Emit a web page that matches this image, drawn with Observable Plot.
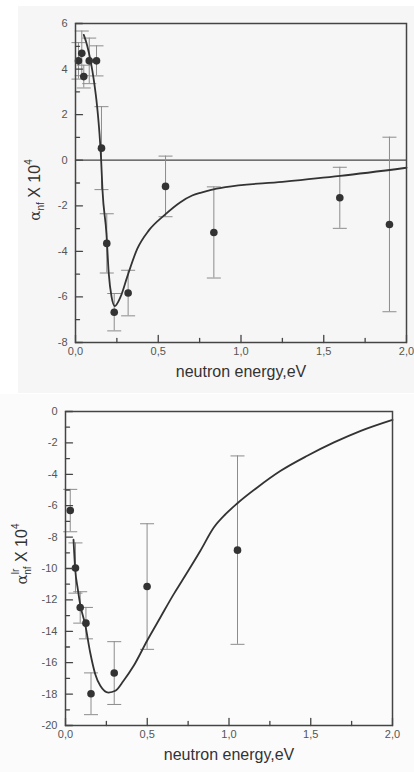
<!DOCTYPE html>
<html>
<head>
<meta charset="utf-8">
<script src="https://cdn.jsdelivr.net/npm/d3@7"></script>
<script src="https://cdn.jsdelivr.net/npm/@observablehq/plot@0.6"></script>
<style>
  html, body { margin: 0; padding: 0; background: #ffffff; }
  body { width: 414px; height: 772px; position: relative; overflow: hidden; font-family: "Liberation Sans", Arial, sans-serif; }
  #top { position: absolute; left: 18px; top: 6px; width: 396px; height: 387px; background: #f6f6f6; }
  #bot { position: absolute; left: 0; top: 394px; width: 414px; height: 378px; background: #fbfbfb; }
  svg { display: block; }
</style>
</head>
<body>
<div id="top"></div>
<div id="bot"></div>
<script>
// ---------- data: top panel (alpha_nf x 10^4) ----------
const topEnergy = [0.018, 0.038, 0.050, 0.083, 0.127, 0.157, 0.189, 0.234, 0.318, 0.544, 0.836, 1.597, 1.897];
const topAlpha  = [4.36, 4.69, 3.67, 4.36, 4.36, 0.53, -3.65, -6.67, -5.83, -1.15, -3.17, -1.65, -2.82];
const topError  = [0.80, 0.98, 0.50, 1.00, 0.66, 1.82, 1.30, 0.82, 1.00, 1.33, 2.00, 1.34, 3.83];
const topCurveE = [0.050, 0.070, 0.091, 0.111, 0.131, 0.145, 0.155, 0.163, 0.187, 0.201, 0.218, 0.237, 0.272, 0.312, 0.373, 0.443, 0.534, 0.634, 0.705, 0.760, 0.820, 0.906, 1.250, 1.600, 2.000];
const topCurveA = [5.50, 5.05, 4.37, 3.50, 2.33, 1.16, 0.00, -1.30, -3.22, -4.98, -6.00, -6.40, -6.00, -5.13, -3.89, -3.08, -2.43, -1.84, -1.55, -1.42, -1.30, -1.18, -0.95, -0.69, -0.33];
const topYMajor = [-8, -6, -4, -2, 0, 2, 4, 6];
const topYMinor = [-7, -5, -3, -1, 1, 3, 5];

// ---------- data: bottom panel (alpha_nf^lr x 10^4) ----------
const botEnergy = [0.029, 0.061, 0.090, 0.125, 0.156, 0.298, 0.499, 1.052];
const botAlpha  = [-6.31, -9.97, -12.48, -13.48, -17.98, -16.66, -11.15, -8.83];
const botError  = [1.35, 1.60, 1.00, 1.00, 1.33, 2.00, 4.00, 6.00];
const botCurveE = [0.049, 0.059, 0.075, 0.090, 0.121, 0.151, 0.182, 0.213, 0.263, 0.305, 0.355, 0.417, 0.499, 0.580, 0.662, 0.713, 0.825, 0.907, 0.979, 1.050, 1.173, 1.316, 1.479, 1.642, 1.806, 2.000];
const botCurveA = [-8.17, -10.0, -11.3, -12.3, -13.6, -15.35, -16.73, -17.47, -17.9, -17.79, -17.15, -16.2, -14.6, -13.12, -11.63, -10.78, -8.87, -7.39, -6.54, -5.86, -4.84, -3.78, -2.82, -1.97, -1.23, -0.53];
const botYMajor = [-20, -18, -16, -14, -12, -10, -8, -6, -4, -2, 0];
const botYMinor = [-19, -17, -15, -13, -11, -9, -7, -5, -3, -1];

// ---------- shared ----------
const xMajor = [0, 0.5, 1.0, 1.5, 2.0];
const xMinor = [0.25, 0.75, 1.25, 1.75];
const xTitle = "neutron energy,eV";

const fmtX = d => d.toFixed(1).replace(".", ",");
const fmtY = d => String(d);
const capSymbol = { draw(ctx) { ctx.moveTo(-7, 0); ctx.lineTo(7, 0); } };
const tickShape = { draw(ctx, l) { ctx.moveTo(0, 0); ctx.lineTo(0, -l); } };

function panel(o) {
  const pts = o.e.map((x, i) => ({ x, y: o.a[i], lo: o.a[i] - o.err[i], hi: o.a[i] + o.err[i] }));
  const curve = o.ce.map((x, i) => ({ x, y: o.ca[i] }));
  const frameC = "#444";
  const barC = "#8c8c8c";
  const tickX = (ticks, len) => Plot.vector(ticks, { x: d => d, frameAnchor: "bottom", length: len, rotate: 0, anchor: "start", shape: tickShape, stroke: frameC, strokeWidth: 1.3 });
  const tickY = (ticks, len) => Plot.vector(ticks, { y: d => d, frameAnchor: "left", length: len, rotate: 90, anchor: "start", shape: tickShape, stroke: frameC, strokeWidth: 1.3 });
  return Plot.plot({
    width: o.width, height: o.height,
    marginLeft: o.ml, marginRight: o.mr, marginTop: o.mt, marginBottom: o.mb,
    style: { background: "transparent", fontFamily: "'Liberation Sans', Arial, sans-serif", fontSize: "11px", color: "#555", overflow: "visible" },
    x: { domain: [0, 2], label: null },
    y: { domain: o.yDomain, label: null },
    marks: [
      o.zero ? Plot.ruleY([0], { stroke: frameC, strokeWidth: 1.3 }) : null,
      Plot.ruleX(pts, { x: "x", y1: "lo", y2: "hi", stroke: barC, strokeWidth: 1 }),
      Plot.dot(pts, { x: "x", y: "lo", symbol: capSymbol, stroke: barC, strokeWidth: 1, fill: "none" }),
      Plot.dot(pts, { x: "x", y: "hi", symbol: capSymbol, stroke: barC, strokeWidth: 1, fill: "none" }),
      Plot.line(curve, { x: "x", y: "y", curve: "monotone-x", stroke: "#333", strokeWidth: 1.8 }),
      Plot.dot(pts, { x: "x", y: "y", r: 3.8, fill: "#333", stroke: null }),
      // inward ticks
      tickX(xMajor, 7), tickX(xMinor, 4),
      tickY(o.yMajor, 7), tickY(o.yMinor, 4),
      // tick labels
      Plot.axisX({ ticks: xMajor, tickSize: 0, tickPadding: 5, tickFormat: fmtX, fill: "#555", label: null }),
      Plot.axisY({ ticks: o.yMajor, tickSize: 0, tickPadding: 8, tickFormat: fmtY, fill: "#555", label: null }),
      Plot.frame({ stroke: frameC, strokeWidth: 1.5 }),
      Plot.text([xTitle], { frameAnchor: "bottom", dy: 34, fontSize: 16, fill: "#333", textAnchor: "middle" })
    ]
  });
}

function addYLabel(svg, x, y, sup) {
  const t = d3.select(svg).append("text")
    .attr("transform", `translate(${x},${y}) rotate(-90)`)
    .attr("text-anchor", "middle")
    .attr("font-size", 16)
    .attr("fill", "#333")
    .attr("font-family", "'Liberation Sans', Arial, sans-serif");
  t.append("tspan").attr("font-family", "'DejaVu Serif', serif").attr("font-size", 15).text("α");
  if (sup) {
    t.append("tspan").attr("font-size", 10).attr("dy", -8).text(sup);
    t.append("tspan").attr("font-size", 10).attr("dx", -6).attr("dy", 12).text("nf");
  } else {
    t.append("tspan").attr("font-size", 10).attr("dy", 4).text("nf");
  }
  t.append("tspan").attr("dy", -4).text(" X 10");
  t.append("tspan").attr("font-size", 10).attr("dy", -8).text("4");
}

const topSvg = panel({
  width: 396, height: 387, ml: 57, mr: 8, mt: 17, mb: 51,
  yDomain: [-8, 6], yMajor: topYMajor, yMinor: topYMinor, zero: true,
  e: topEnergy, a: topAlpha, err: topError, ce: topCurveE, ca: topCurveA
});
document.getElementById("top").appendChild(topSvg);
addYLabel(topSvg, 22, 184, null);

const botSvg = panel({
  width: 414, height: 378, ml: 65, mr: 22, mt: 17, mb: 47,
  yDomain: [-20, 0], yMajor: botYMajor, yMinor: botYMinor, zero: false,
  e: botEnergy, a: botAlpha, err: botError, ce: botCurveE, ca: botCurveA
});
document.getElementById("bot").appendChild(botSvg);
addYLabel(botSvg, 27, 160, "lr");
</script>
</body>
</html>
